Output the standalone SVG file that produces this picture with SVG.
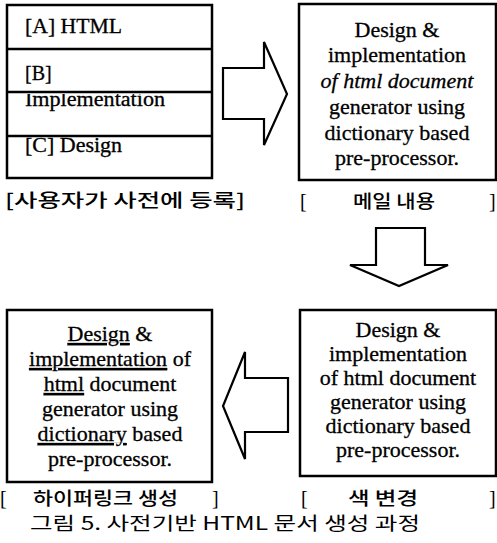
<svg xmlns="http://www.w3.org/2000/svg" width="497" height="543" viewBox="0 0 497 543">
<style>
.box{fill:#fff;stroke:#000;stroke-width:2.5}
.div{stroke:#000;stroke-width:2.5}
.arr{fill:#fff;stroke:#000;stroke-width:2.2;stroke-linejoin:miter}
.t{font-family:"Liberation Serif","Times New Roman",serif;font-size:22px;fill:#000;stroke:#000;stroke-width:0.3;text-anchor:middle}
.tl{font-family:"Liberation Serif","Times New Roman",serif;font-size:20px;fill:#000;stroke:#000;stroke-width:0.3}
.k{font-family:"Noto Sans CJK KR","Noto Sans",sans-serif;font-size:18px;font-weight:500;fill:#000}
.kb{font-family:"Liberation Serif","Times New Roman",serif;font-size:20px;fill:#000}
.cap{font-family:"Noto Sans CJK KR","Noto Sans",sans-serif;font-size:18px;fill:#000}
.i{font-style:italic}
.u{text-decoration:underline}
</style>
<defs>
<clipPath id="clipB"><rect x="0" y="94" width="240" height="40"/></clipPath>
</defs>
<rect width="497" height="543" fill="#fff"/>

<g id="node-dictionary">
<rect class="box" x="7" y="5" width="205" height="173"/>
<line class="div" x1="7" y1="49" x2="212" y2="49"/>
<line class="div" x1="7" y1="92" x2="212" y2="92"/>
<line class="div" x1="7" y1="136" x2="212" y2="136"/>
<text class="tl" x="25" y="33" textLength="97" lengthAdjust="spacingAndGlyphs">[A] HTML</text>
<text class="tl" x="25" y="80">[B]</text>
<text class="tl" x="25" y="106" clip-path="url(#clipB)" textLength="140" lengthAdjust="spacingAndGlyphs">Implementation</text>
<text class="tl" x="25" y="152" textLength="97" lengthAdjust="spacingAndGlyphs">[C] Design</text>
<text class="k" x="5" y="207" textLength="240" lengthAdjust="spacingAndGlyphs">[사용자가 사전에 등록]</text>
</g>

<g id="node-mail">
<rect class="box" x="299" y="4" width="197" height="176"/>
<text class="t" x="397" y="37">Design &amp;</text>
<text class="t" x="397" y="62">implementation</text>
<text class="t i" x="397" y="88">of html document</text>
<text class="t" x="397" y="114">generator using</text>
<text class="t" x="397" y="140">dictionary based</text>
<text class="t" x="397" y="165">pre-processor.</text>
<text class="kb" x="300" y="208">[</text>
<text class="k" x="353" y="208" textLength="82" lengthAdjust="spacingAndGlyphs">메일 내용</text>
<text class="kb" x="489" y="208">]</text>
</g>

<g id="node-color">
<rect class="box" x="300" y="310" width="196" height="166"/>
<text class="t" x="398" y="337">Design &amp;</text>
<text class="t" x="398" y="361">implementation</text>
<text class="t" x="398" y="385">of html document</text>
<text class="t" x="398" y="409">generator using</text>
<text class="t" x="398" y="433">dictionary based</text>
<text class="t" x="398" y="457">pre-processor.</text>
<text class="kb" x="301" y="505">[</text>
<text class="k" x="348" y="505" textLength="70" lengthAdjust="spacingAndGlyphs">색 변경</text>
<text class="kb" x="489" y="505">]</text>
</g>

<g id="node-hyperlink">
<rect class="box" x="7" y="310" width="205" height="172"/>
<text class="t" x="110" y="341"><tspan class="u">Design</tspan> &amp;</text>
<text class="t" x="110" y="366"><tspan class="u">implementation</tspan> of</text>
<text class="t" x="110" y="391"><tspan class="u">html</tspan> document</text>
<text class="t" x="110" y="416">generator using</text>
<text class="t" x="110" y="441"><tspan class="u">dictionary</tspan> based</text>
<text class="t" x="110" y="466">pre-processor.</text>
<text class="kb" x="0" y="505">[</text>
<text class="k" x="33" y="505" textLength="145" lengthAdjust="spacingAndGlyphs">하이퍼링크 생성</text>
<text class="kb" x="212" y="505">]</text>
</g>

<g id="connectors">
<polygon class="arr" points="223,68 264,68 264,42 287,94 264,145 264,119 223,119"/>
<polygon class="arr" points="376,228 425,228 425,265 448,265 399,286 350,265 376,265"/>
<polygon class="arr" points="288,378 245,378 245,352 223,406 245,459 245,432 288,432"/>
</g>

<text class="cap" x="30" y="530" textLength="390" lengthAdjust="spacingAndGlyphs">그림 5. 사전기반 HTML 문서 생성 과정</text>
</svg>
